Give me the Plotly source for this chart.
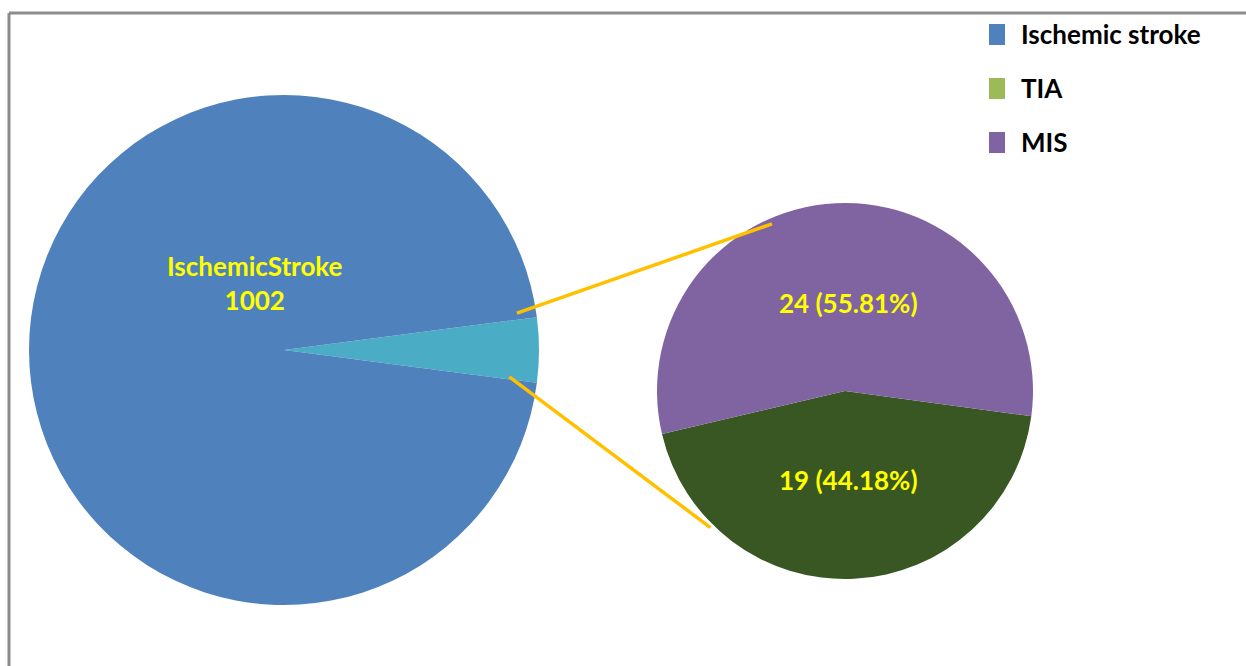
import math
import plotly.graph_objects as go

W, H = 1246, 666

# ---- data ----
main_labels = ["TIA + MIS", "Ischemic stroke"]
main_values = [43, 1002]
main_colors = ["#4BACC6", "#4F81BD"]
main_label_lines = ["IschemicStroke", "1002"]

sub_labels = ["TIA", "MIS"]
sub_values = [19, 24]
sub_text = ["19 (44.18%)", "24 (55.81%)"]
sub_colors = ["#385723", "#8064A2"]

legend_labels = ["Ischemic stroke", "TIA", "MIS"]
legend_colors = ["#4F81BD", "#9BBB59", "#8064A2"]

# ---- geometry (pixels) ----
c1, r1 = (284, 350), 255
c2, r2 = (845, 391), 188


def px(x):
    return x / W


def py(y):
    return 1 - y / H


def dom(c, r):
    return dict(x=[px(c[0] - r), px(c[0] + r)], y=[py(c[1] + r), py(c[1] - r)])


half1 = main_values[0] / sum(main_values) * 180.0
fig = go.Figure()
fig.add_trace(go.Pie(
    labels=main_labels, values=main_values, sort=False, direction="clockwise",
    rotation=90 - half1, marker=dict(colors=main_colors, line=dict(width=0)),
    textinfo="none", hoverinfo="label+value", domain=dom(c1, r1), showlegend=False,
))
fig.add_trace(go.Pie(
    labels=sub_labels, values=sub_values, sort=False, direction="clockwise",
    rotation=97.7, marker=dict(colors=sub_colors, line=dict(width=0)),
    textinfo="none", hoverinfo="label+value", domain=dom(c2, r2), showlegend=False,
))

shapes = []
annotations = []

# chart border (top & left)
border = "#8C8C8C"
shapes.append(dict(type="line", xref="paper", yref="paper", x0=px(9), y0=py(13), x1=1, y1=py(13),
                   line=dict(color=border, width=3)))
shapes.append(dict(type="line", xref="paper", yref="paper", x0=px(9), y0=py(13), x1=px(9), y1=0,
                   line=dict(color=border, width=3)))

# connector lines from small slice edges to second pie
def pt(c, r, ang):
    a = math.radians(ang)
    return c[0] + r * math.cos(a), c[1] - r * math.sin(a)

s_top = pt(c1, r1 * 0.925, 9.0)
s_bot = pt(c1, r1 * 0.89, -6.8)
e_top = pt(c2, r2 * 0.97, 113.6)
e_bot = pt(c2, r2 * 1.02, -134.6)
for a, b in [(s_top, e_top), (s_bot, e_bot)]:
    shapes.append(dict(type="line", xref="paper", yref="paper",
                       x0=px(a[0]), y0=py(a[1]), x1=px(b[0]), y1=py(b[1]),
                       line=dict(color="#FFC000", width=3.5)))

FONT = "Lato"
# main pie label
annotations.append(dict(x=px(255), y=py(283), xref="paper", yref="paper",
                        text="<br>".join("<b>%s</b>" % t for t in main_label_lines),
                        showarrow=False, font=dict(family=FONT, size=26, color="#FFFF00"),
                        xanchor="center", yanchor="middle", align="center"))
# sub pie labels
sub_pos = [(848, 480), (848, 303)]
for t, (x, y) in zip(sub_text, sub_pos):
    annotations.append(dict(x=px(x), y=py(y), xref="paper", yref="paper", text="<b>%s</b>" % t,
                            showarrow=False, font=dict(family=FONT, size=26, color="#FFFF00"),
                            xanchor="center", yanchor="middle"))

# legend
for i, (lab, col) in enumerate(zip(legend_labels, legend_colors)):
    yc = 34 + 54 * i
    shapes.append(dict(type="rect", xref="paper", yref="paper", x0=px(989), x1=px(1005),
                       y0=py(yc + 11), y1=py(yc - 10), fillcolor=col, line=dict(width=0)))
    annotations.append(dict(x=px(1019), y=py(yc), xref="paper", yref="paper", text="<b>%s</b>" % lab,
                            showarrow=False, font=dict(family=FONT, size=26, color="black"),
                            xanchor="left", yanchor="middle"))

fig.update_layout(width=W, height=H, margin=dict(l=0, r=0, t=0, b=0),
                  paper_bgcolor="white", plot_bgcolor="white",
                  shapes=shapes, annotations=annotations)
fig.write_html("out.html")
